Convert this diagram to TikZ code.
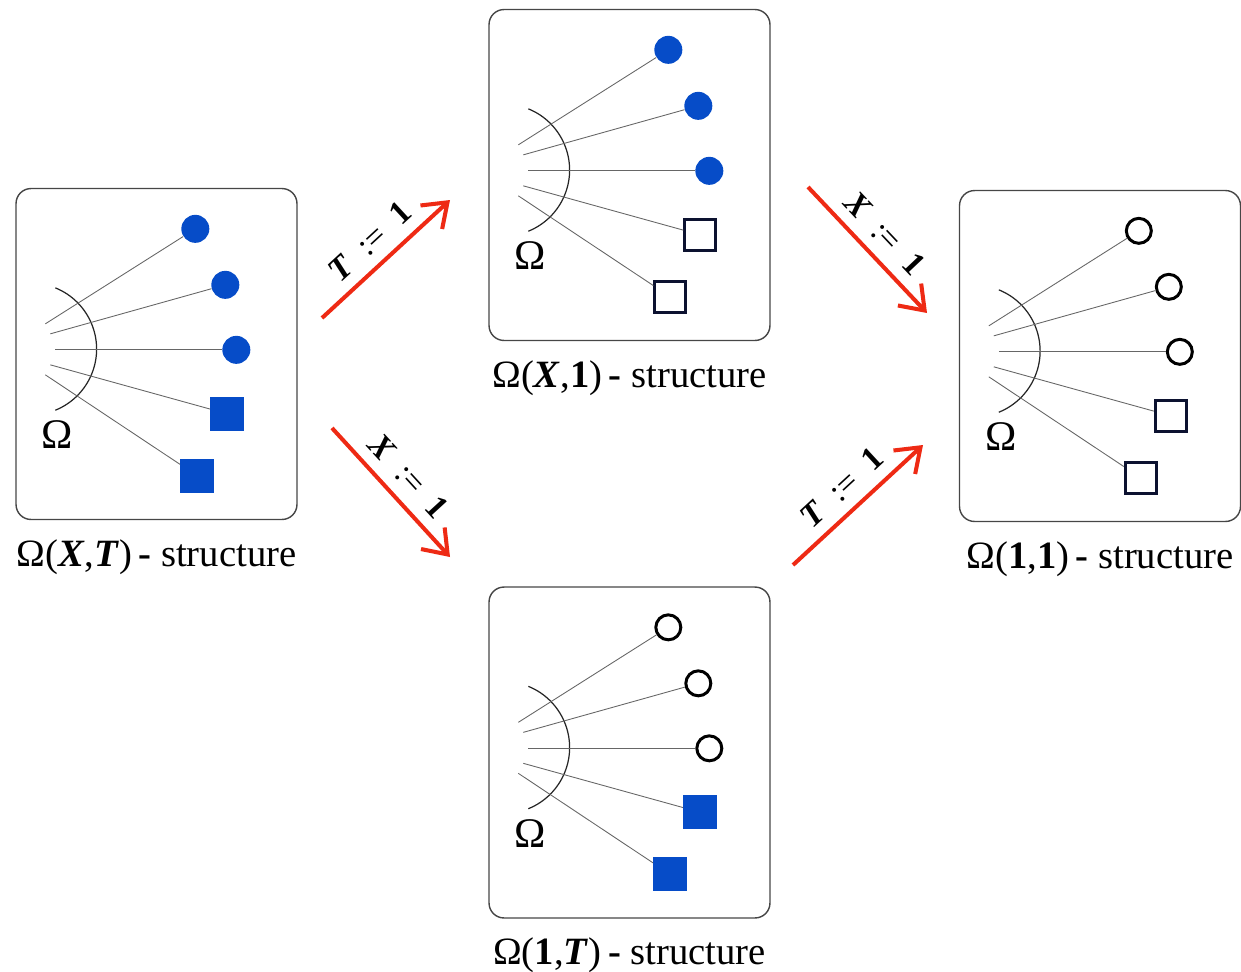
\documentclass[tikz,border=0pt]{standalone}
\usepackage{fontspec}
\setmainfont{Liberation Serif}
\usetikzlibrary{positioning}
\usetikzlibrary{arrows.meta}
\definecolor{dotblue}{RGB}{6,76,200}
\definecolor{arrowred}{RGB}{238,42,20}
\definecolor{boxgray}{RGB}{70,70,70}
\definecolor{navy}{RGB}{12,18,48}

% one panel: name, centre, circle style, square style, caption
\newcommand{\markerpanel}[5]{%
  \node[panelbox] (#1) at (#2) {};
  \begin{scope}[shift={(#1.north west)}]
    \draw[omegaarc] (40,100) arc[start angle=-68, end angle=68, radius=66];
    \node[omegasym] (#1-om) at (42,247) {Ω};
    \node[#3] (#1-c1) at (180,41) {};
    \node[#3] (#1-c2) at (210,97) {};
    \node[#3] (#1-c3) at (221,162) {};
    \node[#4] (#1-s1) at (212,226) {};
    \node[#4] (#1-s2) at (182,288) {};
    \coordinate (#1-o1) at (30,136);
    \coordinate (#1-o2) at (35,146);
    \coordinate (#1-o3) at (40,162);
    \coordinate (#1-o4) at (35,177);
    \coordinate (#1-o5) at (30,187);
  \end{scope}
  \draw[spoke] (#1-o1) -- (#1-c1);
  \draw[spoke] (#1-o2) -- (#1-c2);
  \draw[spoke] (#1-o3) -- (#1-c3);
  \draw[spoke] (#1-o4) -- (#1-s1);
  \draw[spoke] (#1-o5) -- (#1-s2);
  \node[structlabel, below=0.38cm of #1] (#1-cap) {#5};
}

\begin{document}
\begin{tikzpicture}[x=0.02cm, y=-0.02cm,
    panelbox/.style={draw=boxgray, line width=0.8pt, rounded corners=0.3cm,
      minimum width=5.62cm, minimum height=6.62cm, inner sep=0pt},
    omegaarc/.style={draw=black!85, line width=0.7pt},
    spoke/.style={draw=black!60, line width=0.5pt},
    fullcirc/.style={circle, fill=dotblue, minimum size=0.56cm, inner sep=0pt},
    opencirc/.style={circle, draw=black, line width=1.7pt, minimum size=0.5cm, inner sep=0pt},
    fullsq/.style={rectangle, fill=dotblue, minimum size=0.68cm, inner sep=0pt},
    opensq/.style={rectangle, draw=navy, line width=1.7pt, minimum size=0.62cm, inner sep=0pt},
    omegasym/.style={font=\fontsize{24}{28}\selectfont, inner sep=0pt},
    structlabel/.style={font=\fontsize{22}{26}\selectfont, inner sep=0pt},
    subst/.style={draw=arrowred, line width=2.3pt,
      -{Straight Barb[length=4.4mm, width=6.4mm]}},
    substlabel/.style={font=\fontsize{19}{22}\selectfont, sloped, above=5pt, inner sep=1pt}]

  \useasboundingbox (0,0) rectangle (1241,971);

  \markerpanel{xt}{156.5,354}{fullcirc}{fullsq}{Ω(\textbf{\textit{X}},\textbf{\textit{T}})\,\textbf{-} structure}
  \markerpanel{xone}{629.5,175}{fullcirc}{opensq}{Ω(\textbf{\textit{X}},\textbf{1})\,\textbf{-} structure}
  \markerpanel{onet}{629.5,752.5}{opencirc}{fullsq}{Ω(\textbf{1},\textbf{\textit{T}})\,\textbf{-} structure}
  \markerpanel{oneone}{1100,356}{opencirc}{opensq}{Ω(\textbf{1},\textbf{1})\,\textbf{-} structure}

  \coordinate (a1s) at (322,318);
  \coordinate (a1e) at (450,200);
  \coordinate (a2s) at (808,187);
  \coordinate (a2e) at (927,313);
  \coordinate (a3s) at (332,428);
  \coordinate (a3e) at (450,557);
  \coordinate (a4s) at (793,565);
  \coordinate (a4e) at (923,445);

  \draw[subst] (a1s) -- node[substlabel] (l1) {\textbf{\textit{T}}\enspace:=\enspace\textbf{1}} (a1e);
  \draw[subst] (a2s) -- node[substlabel] (l2) {\textbf{\textit{X}}\enspace:=\enspace\textbf{1}} (a2e);
  \draw[subst] (a3s) -- node[substlabel] (l3) {\textbf{\textit{X}}\enspace:=\enspace\textbf{1}} (a3e);
  \draw[subst] (a4s) -- node[substlabel] (l4) {\textbf{\textit{T}}\enspace:=\enspace\textbf{1}} (a4e);
\end{tikzpicture}
\end{document}
